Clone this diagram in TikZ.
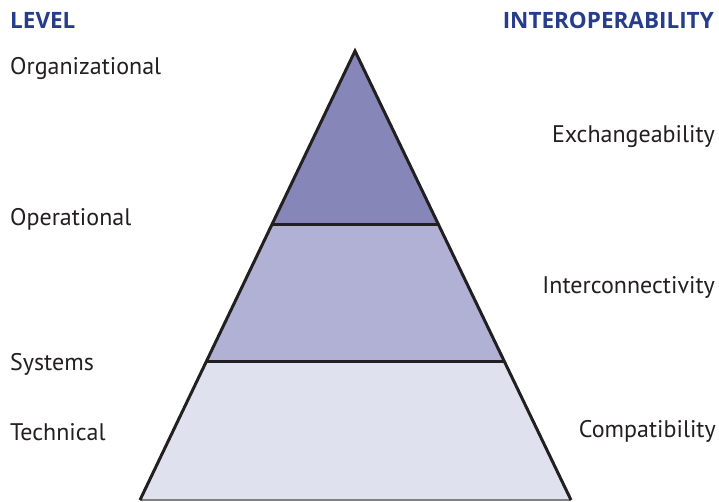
\documentclass[tikz,border=0pt]{standalone}
\usepackage{fontspec}
\setmainfont{PT Sans}
\newfontfamily\headfont{Open Sans}
\usetikzlibrary{calc}
\definecolor{tier1}{HTML}{8687B8}
\definecolor{tier2}{HTML}{B0B1D4}
\definecolor{tier3}{HTML}{DFE1EF}
\definecolor{headblue}{HTML}{253D8C}
\definecolor{txt}{HTML}{231F20}
\tikzset{
  edge/.style={draw=txt, line width=3pt, line join=miter},
  lab/.style={inner sep=0pt, text=txt, font=\fontsize{24}{28}\selectfont},
  head/.style={inner sep=0pt, text=headblue, font=\headfont\bfseries\fontsize{22.5}{26}\selectfont},
}
\begin{document}
\begin{tikzpicture}[x=1pt,y=-1pt]
\useasboundingbox (0,0) rectangle (719,502);
\fill[white] (0,0) rectangle (719,502);
\coordinate (A) at (355,51);
\coordinate (L) at (140,500);
\coordinate (R) at (571,500);
\coordinate (L1) at ($(A)!0.3864!(L)$);
\coordinate (R1) at ($(A)!0.3864!(R)$);
\coordinate (L2) at ($(A)!0.692!(L)$);
\coordinate (R2) at ($(A)!0.692!(R)$);
\fill[tier1] (A) -- (L1) -- (R1) -- cycle;
\fill[tier2] (L1) -- (L2) -- (R2) -- (R1) -- cycle;
\fill[tier3] (L2) -- (L) -- (R) -- (R2) -- cycle;
\draw[edge] (L1) -- (R1);
\draw[edge] (L2) -- (R2);
\draw[draw=gray, line width=1.5pt] (L) -- (R);
\draw[edge] (L) -- (A) -- (R);
\node[head, anchor=base west] (level) at (10,29) {LEVEL};
\node[head, anchor=base east] (interop) at (714,29) {INTEROPERABILITY};
\node[lab, anchor=base west] (org) at (10,75) {Organizational};
\node[lab, anchor=base west] (oper) at (10,226) {Operational};
\node[lab, anchor=base west] (sys) at (10,370) {Systems};
\node[lab, anchor=base west] (tech) at (10,440) {Technical};
\node[lab, anchor=base east] (exch) at (715,143) {Exchangeability};
\node[lab, anchor=base east] (inter) at (715,294) {Interconnectivity};
\node[lab, anchor=base east] (comp) at (716,437) {Compatibility};
\end{tikzpicture}
\end{document}
